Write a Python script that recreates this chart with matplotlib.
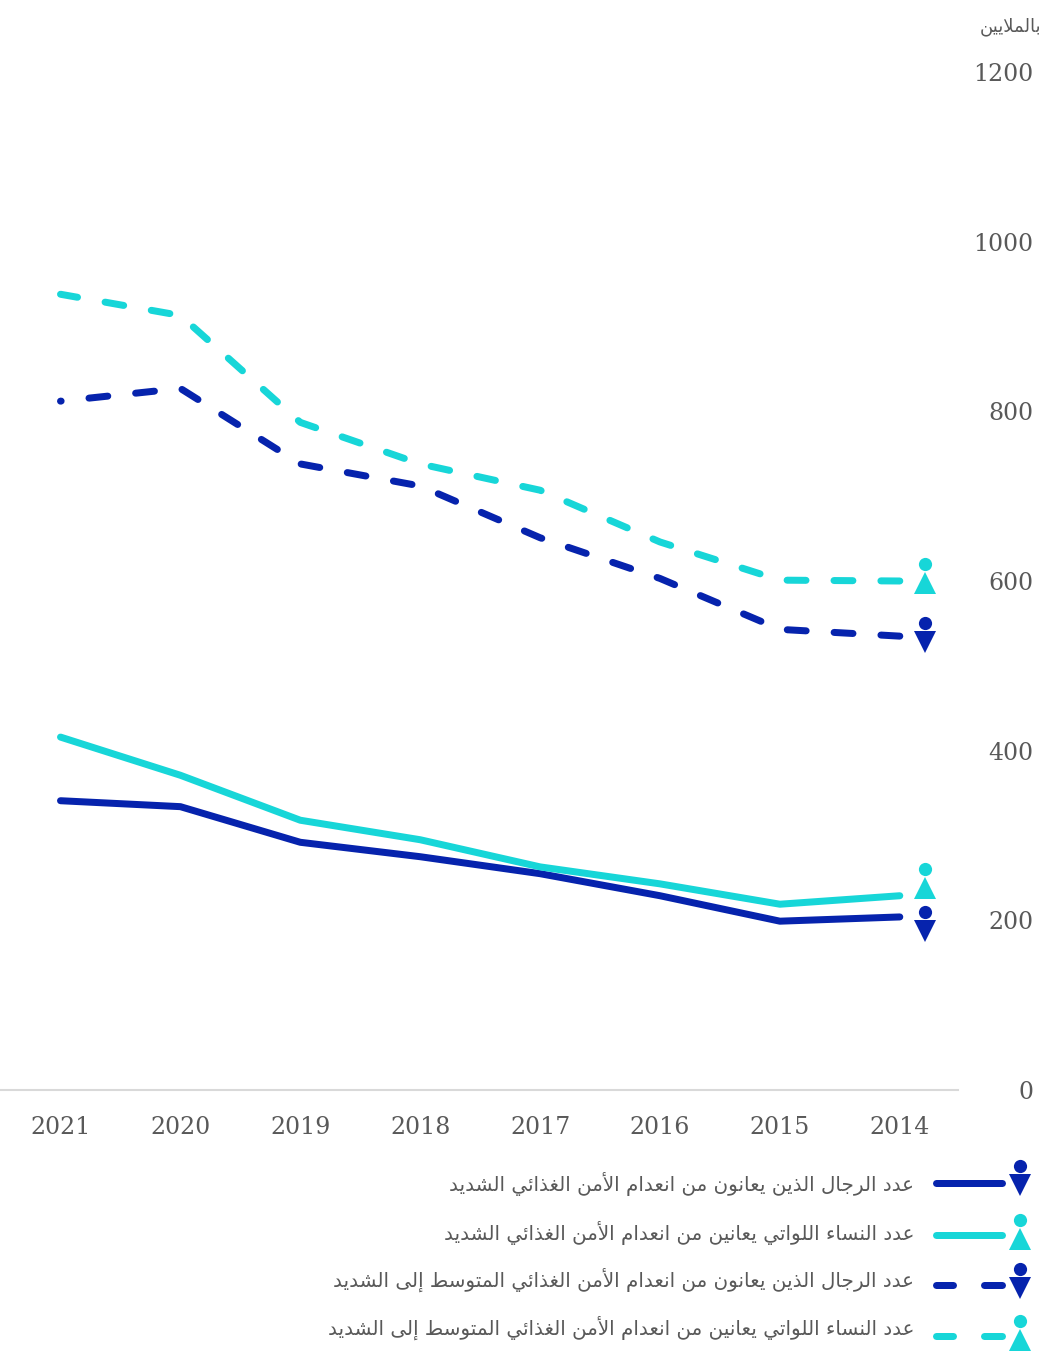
import matplotlib
matplotlib.use("Agg")
import matplotlib.pyplot as plt
from matplotlib.lines import Line2D
from matplotlib.transforms import Affine2D

W, H = 1041, 1353

years = ["2021", "2020", "2019", "2018", "2017", "2016", "2015", "2014"]
y_ticks = [0, 200, 400, 600, 800, 1000, 1200]

men_severe = [341, 334, 292, 275, 255, 229, 199, 204]
women_severe = [416, 371, 318, 295, 263, 243, 219, 229]
men_moderate = [812, 827, 738, 712, 651, 603, 543, 535]
women_moderate = [938, 913, 787, 738, 707, 646, 601, 600]

label_men_severe = "عدد الرجال الذين يعانون من انعدام الأمن الغذائي الشديد"
label_women_severe = "عدد النساء اللواتي يعانين من انعدام الأمن الغذائي الشديد"
label_men_moderate = "عدد الرجال الذين يعانون من انعدام الأمن الغذائي المتوسط إلى الشديد"
label_women_moderate = "عدد النساء اللواتي يعانين من انعدام الأمن الغذائي المتوسط إلى الشديد"
unit_label = "بالملايين"

DARK = "#0623ad"
CYAN = "#17d6d8"
GREY = "#595959"

# matplotlib does not shape arabic, so map the letters to their joined forms
# letter: isolated, final, initial, medial
FORMS = {
    "ء": (0xFE80,) * 4,
    "أ": (0xFE83, 0xFE84, 0xFE83, 0xFE84),
    "إ": (0xFE87, 0xFE88, 0xFE87, 0xFE88),
    "ئ": (0xFE89, 0xFE8A, 0xFE8B, 0xFE8C),
    "ا": (0xFE8D, 0xFE8E, 0xFE8D, 0xFE8E),
    "ب": (0xFE8F, 0xFE90, 0xFE91, 0xFE92),
    "ت": (0xFE95, 0xFE96, 0xFE97, 0xFE98),
    "ج": (0xFE9D, 0xFE9E, 0xFE9F, 0xFEA0),
    "د": (0xFEA9, 0xFEAA, 0xFEA9, 0xFEAA),
    "ذ": (0xFEAB, 0xFEAC, 0xFEAB, 0xFEAC),
    "ر": (0xFEAD, 0xFEAE, 0xFEAD, 0xFEAE),
    "س": (0xFEB1, 0xFEB2, 0xFEB3, 0xFEB4),
    "ش": (0xFEB5, 0xFEB6, 0xFEB7, 0xFEB8),
    "ط": (0xFEC1, 0xFEC2, 0xFEC3, 0xFEC4),
    "ع": (0xFEC9, 0xFECA, 0xFECB, 0xFECC),
    "غ": (0xFECD, 0xFECE, 0xFECF, 0xFED0),
    "ل": (0xFEDD, 0xFEDE, 0xFEDF, 0xFEE0),
    "م": (0xFEE1, 0xFEE2, 0xFEE3, 0xFEE4),
    "ن": (0xFEE5, 0xFEE6, 0xFEE7, 0xFEE8),
    "و": (0xFEED, 0xFEEE, 0xFEED, 0xFEEE),
    "ى": (0xFEEF, 0xFEF0, 0xFEEF, 0xFEF0),
    "ي": (0xFEF1, 0xFEF2, 0xFEF3, 0xFEF4),
}
NO_LEFT_JOIN = set("ءأإادذرزو")
LAM_ALEF = {"ا": (0xFEFB, 0xFEFC), "أ": (0xFEF7, 0xFEF8), "إ": (0xFEF9, 0xFEFA)}


def shape(text):
    out = []
    for word in text.split(" "):
        chars = []
        i = 0
        joined = False
        while i < len(word):
            c = word[i]
            nxt = word[i + 1] if i + 1 < len(word) else None
            if c == "ل" and nxt in LAM_ALEF:
                chars.append(chr(LAM_ALEF[nxt][1 if joined else 0]))
                joined = False
                i += 2
                continue
            joins_next = nxt is not None and c not in NO_LEFT_JOIN and nxt != "ء"
            f = FORMS[c]
            if joined and joins_next:
                chars.append(chr(f[3]))
            elif joined:
                chars.append(chr(f[1]))
            elif joins_next:
                chars.append(chr(f[2]))
            else:
                chars.append(chr(f[0]))
            joined = joins_next
            i += 1
        out.append("".join(reversed(chars)))
    return " ".join(reversed(out))


fig = plt.figure(figsize=(W / 100, H / 100), dpi=100)
ax = fig.add_axes([0, 1 - 1090 / H, 958 / W, (1090 - 72) / H])
ax.set_xlim(-60.5 / 119.9, (958 - 60.5) / 119.9)
ax.set_ylim(0, 1200)

x = list(range(len(years)))
lw = 7 * 0.72
ax.plot(x, men_severe, color=DARK, lw=lw, solid_capstyle="round", solid_joinstyle="round")
ax.plot(x, women_severe, color=CYAN, lw=lw, solid_capstyle="round", solid_joinstyle="round")
# the dashes run from 2014 back to 2021
ax.plot(x[::-1], men_moderate[::-1], color=DARK, lw=lw, linestyle=(0, (2.7, 4.0)), dash_capstyle="round")
ax.plot(x[::-1], women_moderate[::-1], color=CYAN, lw=lw, linestyle=(0, (2.7, 4.0)), dash_capstyle="round")

for s in ["top", "left", "right"]:
    ax.spines[s].set_visible(False)
ax.spines["bottom"].set_color("#d9d9d9")
ax.spines["bottom"].set_linewidth(1.5)

ax.set_xticks(x, years)
ax.set_yticks(y_ticks, [str(v) for v in y_ticks])
ax.yaxis.tick_right()
ax.tick_params(axis="x", length=0, pad=19, labelsize=17, labelcolor=GREY)
ax.tick_params(axis="y", length=0, pad=54.5, labelsize=17, labelcolor=GREY)
for t in ax.get_xticklabels() + ax.get_yticklabels():
    t.set_fontfamily("DejaVu Serif")
for t in ax.get_yticklabels():
    t.set_ha("right")

# pixel coordinates, top left origin, for the icons and the key
px = Affine2D().scale(1 / W, -1 / H).translate(0, 1) + fig.transFigure


def icon(cx, cy, color, up):
    # head and triangle body
    fig.add_artist(Line2D([cx], [cy], marker="o", ms=9.5, color=color, mew=0, transform=px))
    fig.add_artist(Line2D([cx], [cy + 19], marker="^" if up else "v", ms=16, color=color,
                          mew=0, transform=px))


icon(925, 564, CYAN, True)
icon(925, 623, DARK, False)
icon(925, 869, CYAN, True)
icon(925, 912, DARK, False)

rows = [
    (label_men_severe, DARK, False, 1184, 1183, 1166, False),
    (label_women_severe, CYAN, True, 1233, 1235, 1220, False),
    (label_men_moderate, DARK, False, 1280, 1285, 1269, True),
    (label_women_moderate, CYAN, True, 1328, 1336, 1321, True),
]
for label, color, up, ty, ly, iy, dashed in rows:
    fig.text(914 / W, 1 - ty / H, shape(label), ha="right", va="center",
             fontsize=14.3, color=GREY, family="DejaVu Sans")
    if dashed:
        for x0, x1 in [(935.5, 952.5), (983.5, 1001.5)]:
            fig.add_artist(Line2D([x0, x1], [ly, ly], color=color, lw=lw,
                                  solid_capstyle="round", transform=px))
    else:
        fig.add_artist(Line2D([935.5, 1001.5], [ly, ly], color=color, lw=lw,
                              solid_capstyle="round", transform=px))
    icon(1020, iy, color, up)

fig.text(1041 / W, 1 - 27 / H, shape(unit_label), ha="right", va="center",
         fontsize=13, color=GREY, family="DejaVu Sans")

fig.savefig("out.png", dpi=100)
